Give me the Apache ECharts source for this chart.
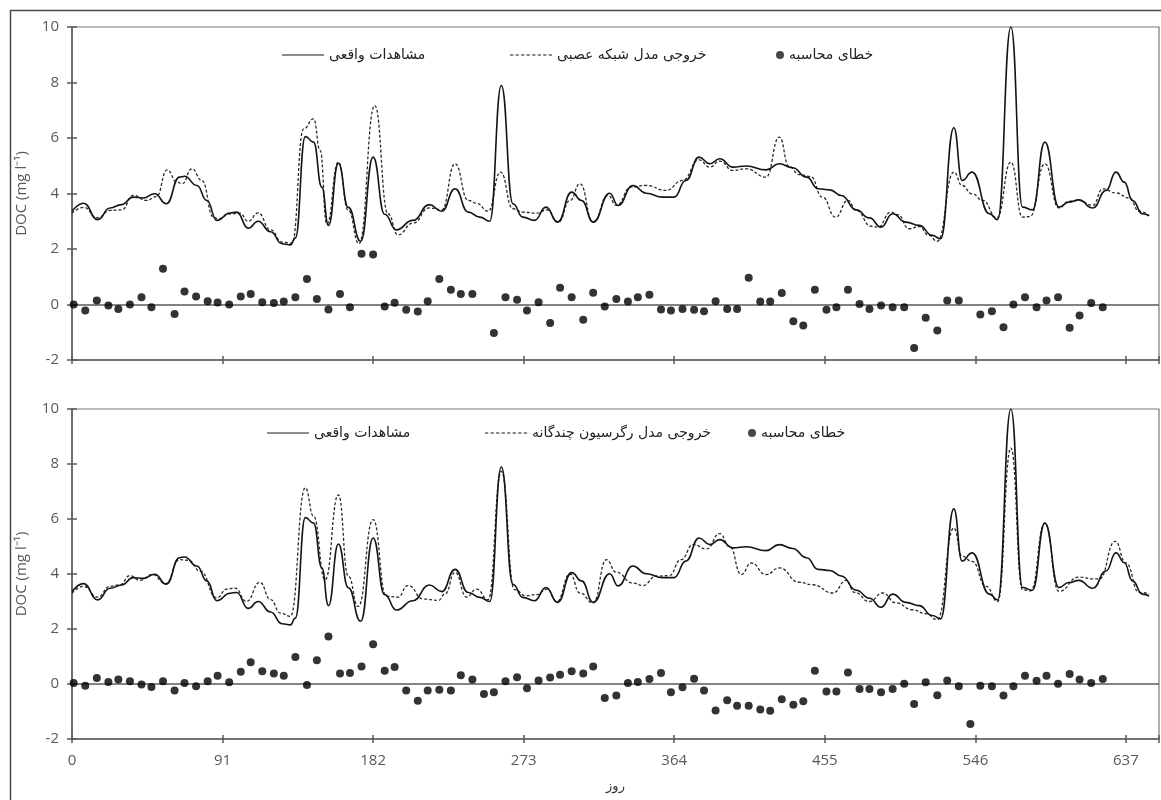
<!DOCTYPE html>
<html>
<head>
<meta charset="utf-8">
<script src="https://cdn.jsdelivr.net/npm/echarts@6/dist/echarts.min.js"></script>
<style>
  html, body { margin: 0; padding: 0; background: #fff; }
  #chart { width: 1161px; height: 800px; }
</style>
</head>
<body>
<div id="chart"></div>
<script>
// x ticks (days)
var dayTicks = [0, 91, 182, 273, 364, 455, 546, 637];

// observed DOC (solid line, same in both panels)
var obsDays = [0, 7, 15.5, 23, 30, 37, 43, 50, 57, 65, 68, 75.5, 81.5, 87.5, 95.5, 99.5, 106.5, 112.5, 120, 127,
  132, 135, 141, 146, 151, 155, 161, 167, 174.5, 182, 189, 196, 206, 216, 223.5, 231.5, 239.5, 246.5, 252.5, 259.5,
  266.5, 272.5, 279.5, 286.5, 293.5, 302, 308, 315, 325, 330, 339, 347, 357, 364, 371, 379, 385.5, 391.5, 399.5, 407.5,
  419.5, 427.5, 435.5, 444, 451, 458, 465, 474, 482, 489, 496, 504, 512, 520, 525, 533, 538, 544, 554.5, 559.5,
  567.5, 574.5, 580.5, 588, 596.5, 602.5, 608.5, 617, 625, 631, 636, 641, 647, 651];
var obsDoc = [3.36, 3.65, 3.06, 3.48, 3.6, 3.87, 3.84, 3.99, 3.63, 4.59, 4.62, 4.29, 3.75, 3.03, 3.3, 3.33, 2.75, 3.0, 2.62, 2.19,
  2.15, 2.4, 6.05, 5.85, 4.23, 2.85, 5.09, 3.5, 2.28, 5.31, 3.25, 2.69, 3.03, 3.6, 3.36, 4.17, 3.33, 3.15, 3.0, 7.89,
  3.63, 3.15, 3.03, 3.51, 2.97, 4.05, 3.75, 2.97, 4.01, 3.57, 4.29, 4.01, 3.87, 3.87, 4.47, 5.31, 5.07, 5.25, 4.95, 4.99,
  4.85, 5.07, 4.93, 4.59, 4.17, 4.13, 3.93, 3.41, 3.12, 2.79, 3.27, 2.97, 2.85, 2.49, 2.37, 6.37, 4.47, 4.77, 3.27, 3.06,
  10.0, 3.51, 3.41, 5.85, 3.51, 3.69, 3.77, 3.48, 4.11, 4.77, 4.41, 3.75, 3.27, 3.2];

// neural network output (dashed, top panel)
var annDays = [0, 7, 15.5, 23, 30, 37, 45, 51, 57.5, 63.5, 66.5, 72.5, 78.5, 85.5, 88.5, 95.5, 101.5, 106.5, 112.5, 120,
  127, 133, 140, 146, 150, 154, 161, 167, 173.5, 183, 191, 197, 206, 216, 223.5, 231.5, 239.5, 244.5, 251.5, 259,
  266.5, 272.5, 281, 287, 294, 301, 307, 315, 324, 329, 338, 347, 359, 369, 379, 385.5, 391.5, 399.5, 407.5, 419.5,
  427.5, 433.5, 439.5, 446.5, 453.5, 461.5, 469, 474, 483, 487, 495, 499, 506, 512, 518, 523, 533, 538, 544, 550.5,
  559, 567.5, 574.5, 579, 588, 596.5, 602.5, 608.5, 617, 623, 631, 639, 645, 651];
var annDoc = [3.29, 3.5, 3.12, 3.39, 3.41, 3.93, 3.75, 3.89, 4.85, 4.41, 4.35, 4.89, 4.47, 3.15, 3.09, 3.27, 3.29, 3.0, 3.3, 2.69,
  2.25, 2.21, 6.33, 6.69, 5.55, 2.9, 5.13, 3.39, 2.19, 7.17, 3.27, 2.51, 2.93, 3.48, 3.41, 5.07, 3.75, 3.65, 3.36, 4.77,
  3.45, 3.33, 3.29, 3.41, 2.97, 3.75, 4.35, 2.97, 3.93, 3.57, 4.23, 4.29, 4.11, 4.47, 5.21, 4.95, 5.17, 4.83, 4.89, 4.59,
  6.03, 4.97, 4.68, 4.61, 3.87, 3.15, 3.75, 3.39, 2.82, 2.79, 3.33, 3.24, 2.73, 2.81, 2.49, 2.28, 4.77, 4.29, 3.99, 3.75,
  3.12, 5.13, 3.15, 3.17, 5.07, 3.48, 3.72, 3.75, 3.57, 4.17, 4.02, 3.84, 3.36, 3.2];

// multiple regression output (dashed, bottom panel)
var mlrDays = [0, 7, 15.5, 23, 29, 35, 41, 48.5, 56.5, 65, 70.5, 77.5, 87.5, 93.5, 98.5, 105.5, 113.5, 120, 126, 132,
  141, 146, 153, 161, 167, 173, 182, 190, 197, 203, 212.5, 221.5, 225.5, 231.5, 238.5, 244.5, 251.5, 259.5, 267.5, 274.5,
  281, 287, 293, 301, 307, 315, 323, 329, 339, 345, 353, 361, 368, 375.5, 383.5, 391.5, 397.5, 404.5, 410.5, 419.5,
  427.5, 439.5, 447.5, 460, 468, 473, 482, 490, 498, 508, 516, 523, 533, 538, 544, 552.5, 559.5, 567.5, 574.5, 579.5,
  588, 596.5, 608.5, 617, 621, 630.5, 637, 645, 651];
var mlrDoc = [3.3, 3.55, 3.16, 3.55, 3.61, 3.94, 3.77, 3.98, 3.65, 4.52, 4.5, 4.1, 3.13, 3.45, 3.49, 3.0, 3.7, 3.07, 2.58, 2.46,
  7.13, 6.1, 3.79, 6.88, 3.92, 2.82, 5.98, 3.19, 3.16, 3.58, 3.09, 3.04, 3.28, 4.06, 3.16, 3.45, 3.07, 7.73, 3.43, 3.21,
  3.25, 3.45, 3.0, 4.0, 3.31, 2.95, 4.52, 4.06, 3.67, 3.58, 3.92, 3.94, 4.52, 5.07, 4.91, 5.47, 5.0, 3.98, 4.4, 3.98,
  4.22, 3.7, 3.61, 3.31, 3.77, 3.33, 3.0, 3.31, 2.95, 2.7, 2.56, 2.34, 5.67, 4.64, 4.46, 3.55, 3.0, 8.58, 3.43, 3.39,
  5.85, 3.37, 3.89, 3.82, 3.82, 5.19, 4.4, 3.33, 3.28];

// calculation error points (shared sampling days)
var errDays = [1, 8, 15, 22, 28, 35, 42, 48, 55, 62, 68, 75, 82, 88, 95, 102, 108, 115, 122, 128,
  135, 142, 148, 155, 162, 168, 175, 182, 189, 195, 202, 209, 215, 222, 229, 235, 242, 249, 255, 262,
  269, 275, 282, 289, 295, 302, 309, 315, 322, 329, 336, 342, 349, 356, 362, 369, 376, 382, 389, 396,
  402, 409, 416, 422, 429, 436, 442, 449, 456, 462, 469, 476, 482, 489, 496, 503, 509, 516, 523, 529,
  536, 543, 549, 556, 563, 569, 576, 583, 589, 596, 603, 609, 616, 623];
var annErr = [0, -0.22, 0.14, -0.04, -0.16, 0, 0.26, -0.1, 1.29, -0.34, 0.47, 0.29, 0.12, 0.07, 0, 0.29, 0.38, 0.08, 0.05, 0.11,
  0.26, 0.92, 0.2, -0.18, 0.38, -0.1, 1.83, 1.8, -0.07, 0.06, -0.19, -0.25, 0.12, 0.92, 0.53, 0.38, 0.38, null, -1.03, 0.26,
  0.17, -0.22, 0.08, -0.67, 0.6, 0.26, -0.55, 0.42, -0.07, 0.2, 0.11, 0.26, 0.35, -0.18, -0.22, -0.16, -0.19, -0.24, 0.12, -0.16,
  -0.16, 0.96, 0.11, 0.11, 0.41, -0.6, -0.76, 0.53, -0.19, -0.1, 0.53, 0.02, -0.16, -0.04, -0.1, -0.1, -1.57, -0.48, -0.94, 0.14,
  0.14, null, -0.36, -0.24, -0.82, 0, 0.26, -0.1, 0.14, 0.26, -0.84, -0.4, 0.05, -0.1];
var mlrErr = [0.04, -0.06, 0.22, 0.07, 0.16, 0.1, -0.02, -0.11, 0.1, -0.24, 0.04, -0.08, 0.1, 0.3, 0.06, 0.45, 0.79, 0.46, 0.38, 0.3,
  0.98, -0.04, 0.86, 1.73, 0.38, 0.4, 0.64, 1.45, 0.48, 0.62, -0.24, -0.61, -0.24, -0.21, -0.24, 0.32, 0.16, -0.36, -0.3, 0.1,
  0.25, -0.15, 0.13, 0.24, 0.34, 0.46, 0.38, 0.64, -0.51, -0.42, 0.04, 0.07, 0.18, 0.4, -0.3, -0.12, 0.19, -0.24, -0.96, -0.59,
  -0.79, -0.79, -0.93, -0.97, -0.55, -0.75, -0.63, 0.48, -0.27, -0.27, 0.42, -0.18, -0.18, -0.3, -0.18, 0.01, -0.73, 0.06, -0.41, 0.13,
  -0.08, -1.45, -0.06, -0.08, -0.42, -0.08, 0.3, 0.12, 0.3, 0.01, 0.36, 0.16, 0.04, 0.18];

var OBS = 'مشاهدات واقعی';
var ANN = 'خروجی مدل شبکه عصبی';
var MLR = 'خروجی مدل رگرسیون چندگانه';
var ERR = 'خطای محاسبه';

function pairs(xs, ys) {
  var out = [];
  xs.forEach(function (x, i) {
    if (ys[i] !== null) out.push([x, ys[i]]);
  });
  return out;
}

var axisGray = '#5a5a5a';
var labelFont = { color: '#595959', fontSize: 15, fontFamily: 'Open Sans, sans-serif' };
var persianFont = { color: '#222', fontSize: 14, fontFamily: 'DejaVu Sans, sans-serif' };

// legend icons: a plain bar for the solid line, short bars for the dashed one
var solidIcon = 'path://M0,0h40v1h-40z';
var dashIcon = 'path://M0,0h3v1h-3zM5,0h3v1h-3zM10,0h3v1h-3zM15,0h3v1h-3zM20,0h3v1h-3zM25,0h3v1h-3zM30,0h3v1h-3zM35,0h3v1h-3z';

function xAxisFor(grid, main) {
  return {
    type: 'value', gridIndex: grid, position: 'bottom',
    min: 0, max: 657, interval: 91,
    axisLine: { show: main, onZero: false, lineStyle: { color: axisGray, width: 1.5 } },
    axisTick: { show: true, inside: !main, length: 4, lineStyle: { color: axisGray, width: 1.5 } },
    axisLabel: Object.assign({ show: main && grid === 1, margin: 14,
      customValues: dayTicks }, labelFont),
    splitLine: { show: false },
    name: main && grid === 1 ? 'روز' : '',
    nameLocation: 'middle', nameGap: 41,
    nameTextStyle: { color: '#333', fontSize: 13, fontFamily: 'DejaVu Sans, sans-serif' }
  };
}

function yAxisFor(grid, main) {
  return {
    type: 'value', gridIndex: grid, position: 'left',
    min: -2, max: 10, interval: 2,
    axisLine: { show: main, onZero: false, lineStyle: { color: axisGray, width: 1.5 } },
    axisTick: { show: true, inside: !main, length: 5, lineStyle: { color: axisGray, width: 1.5 } },
    axisLabel: Object.assign({ show: main, margin: 13 }, labelFont),
    splitLine: { show: false },
    name: main ? 'DOC (mg l⁻¹)' : '',
    nameLocation: 'middle', nameGap: 43,
    nameTextStyle: { color: '#595959', fontSize: 15, fontFamily: 'Open Sans, sans-serif' }
  };
}

function lineSeries(name, xs, ys, grid, dashed) {
  return {
    name: name, type: 'line', xAxisIndex: grid, yAxisIndex: grid,
    data: pairs(xs, ys), symbol: 'none', showSymbol: false, smooth: 0.5, smoothMonotone: 'x',
    lineStyle: dashed ? { color: '#2a2a2a', width: 1.3, type: [3, 2] } : { color: '#141414', width: 1.6 },
    itemStyle: { color: dashed ? '#2a2a2a' : '#141414' },
    z: dashed ? 3 : 4
  };
}

function errSeries(ys, grid) {
  return {
    name: ERR, type: 'scatter', xAxisIndex: grid, yAxisIndex: grid,
    data: pairs(errDays, ys), symbol: 'circle', symbolSize: 8,
    itemStyle: { color: '#000' }, z: 5,
    markLine: {
      silent: true, symbol: 'none', animation: false,
      label: { show: false },
      lineStyle: { color: axisGray, type: 'solid', width: 1.5 },
      data: [{ yAxis: 0 }]
    }
  };
}

function legendAt(name, left, top, kind) {
  var icon = kind === 'dot' ? 'circle' : (kind === 'dash' ? dashIcon : solidIcon);
  return {
    data: [{ name: name, icon: icon, itemStyle: { color: '#1a1a1a', borderWidth: 0 } }],
    left: left, top: top, selectedMode: false,
    itemWidth: kind === 'dot' ? 8 : 42, itemHeight: kind === 'dot' ? 8 : 2,
    textStyle: Object.assign({ lineHeight: 16 }, persianFont)
  };
}

var chart = echarts.init(document.getElementById('chart'), null, { renderer: 'canvas' });
chart.setOption({
  animation: false,
  backgroundColor: '#fff',
  graphic: [{
    type: 'rect', silent: true,
    shape: { x: 10.5, y: 10.5, width: 1200, height: 900 },
    style: { fill: 'none', stroke: '#4a4a4a', lineWidth: 1.5 }
  }],
  grid: [
    { left: 72, width: 1087, top: 27, height: 333, show: true, borderColor: '#7a7a7a', borderWidth: 1.2 },
    { left: 72, width: 1087, top: 409, height: 330, show: true, borderColor: '#7a7a7a', borderWidth: 1.2 }
  ],
  legend: [
    legendAt(OBS, 277, 42, 'solid'),
    legendAt(ANN, 505, 42, 'dash'),
    legendAt(ERR, 771, 42, 'dot'),
    legendAt(OBS, 262, 420, 'solid'),
    legendAt(MLR, 480, 420, 'dash'),
    legendAt(ERR, 743, 420, 'dot')
  ],
  xAxis: [xAxisFor(0, true), xAxisFor(1, true), xAxisFor(0, false), xAxisFor(1, false)],
  yAxis: [yAxisFor(0, true), yAxisFor(1, true), yAxisFor(0, false), yAxisFor(1, false)],
  series: [
    lineSeries(OBS, obsDays, obsDoc, 0, false),
    lineSeries(ANN, annDays, annDoc, 0, true),
    errSeries(annErr, 0),
    lineSeries(OBS, obsDays, obsDoc, 1, false),
    lineSeries(MLR, mlrDays, mlrDoc, 1, true),
    errSeries(mlrErr, 1)
  ]
});
</script>
</body>
</html>
